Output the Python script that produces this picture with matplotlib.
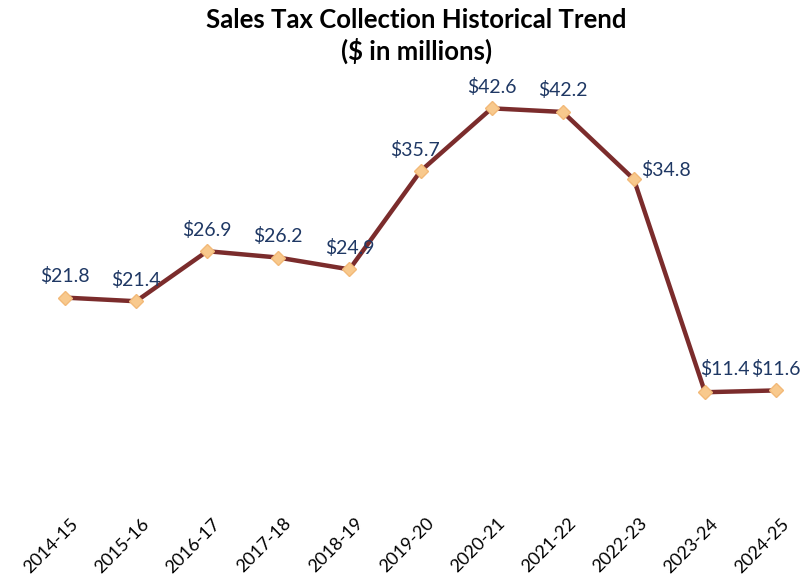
import matplotlib
matplotlib.use("Agg")
import matplotlib.pyplot as plt
from matplotlib.transforms import ScaledTranslation

years = ['2014-15', '2015-16', '2016-17', '2017-18', '2018-19', '2019-20',
         '2020-21', '2021-22', '2022-23', '2023-24', '2024-25']
collections = [21.8, 21.4, 26.9, 26.2, 24.9, 35.7, 42.6, 42.2, 34.8, 11.4, 11.6]

# label offsets in points (dx, dy, ha, va); default centred above the point
label_pos = {5: (-4, 9, 'center', 'bottom'), 8: (5, 0, 'left', 'bottom'),
             9: (14, 10, 'center', 'bottom')}

plt.rcParams['font.family'] = ['Lato', 'DejaVu Sans']

fig = plt.figure(figsize=(8.01, 5.79), dpi=100)
ax = fig.add_axes([0.0, 0.1434, 1.0, 0.7858])

x = list(range(len(years)))
ax.plot(x, collections, color='#7B2C2C', linewidth=3.2, zorder=2)
ax.plot(x, collections, linestyle='none', marker='D', markersize=7,
        markerfacecolor='#F8C98D', markeredgecolor='#F2B978', zorder=3)

for xi, v in zip(x, collections):
    dx, dy, ha, va = label_pos.get(xi, (0, 9, 'center', 'bottom'))
    ax.annotate(f'${v:.1f}', (xi, v), xytext=(dx, dy), textcoords='offset points',
                ha=ha, va=va, fontsize=14, color='#1F3864')

ax.set_xlim(-0.914, 10.35)
ax.set_ylim(0, 50)
ax.set_xticks(x)
ax.set_xticklabels(years, rotation=45, ha='right', rotation_mode='anchor',
                   fontsize=13, color='black')
ax.tick_params(axis='x', length=0, pad=14)
shift = ScaledTranslation(5 / 100, 0, fig.dpi_scale_trans)
for lbl in ax.get_xticklabels():
    lbl.set_transform(lbl.get_transform() + shift)
ax.set_yticks([])
for s in ax.spines.values():
    s.set_visible(False)

fig.text(0.52, 0.986, 'Sales Tax Collection Historical Trend\n($ in millions)',
         ha='center', va='top', fontsize=18.5, fontweight='bold', linespacing=1.25)

fig.savefig('out.png', dpi=100)
